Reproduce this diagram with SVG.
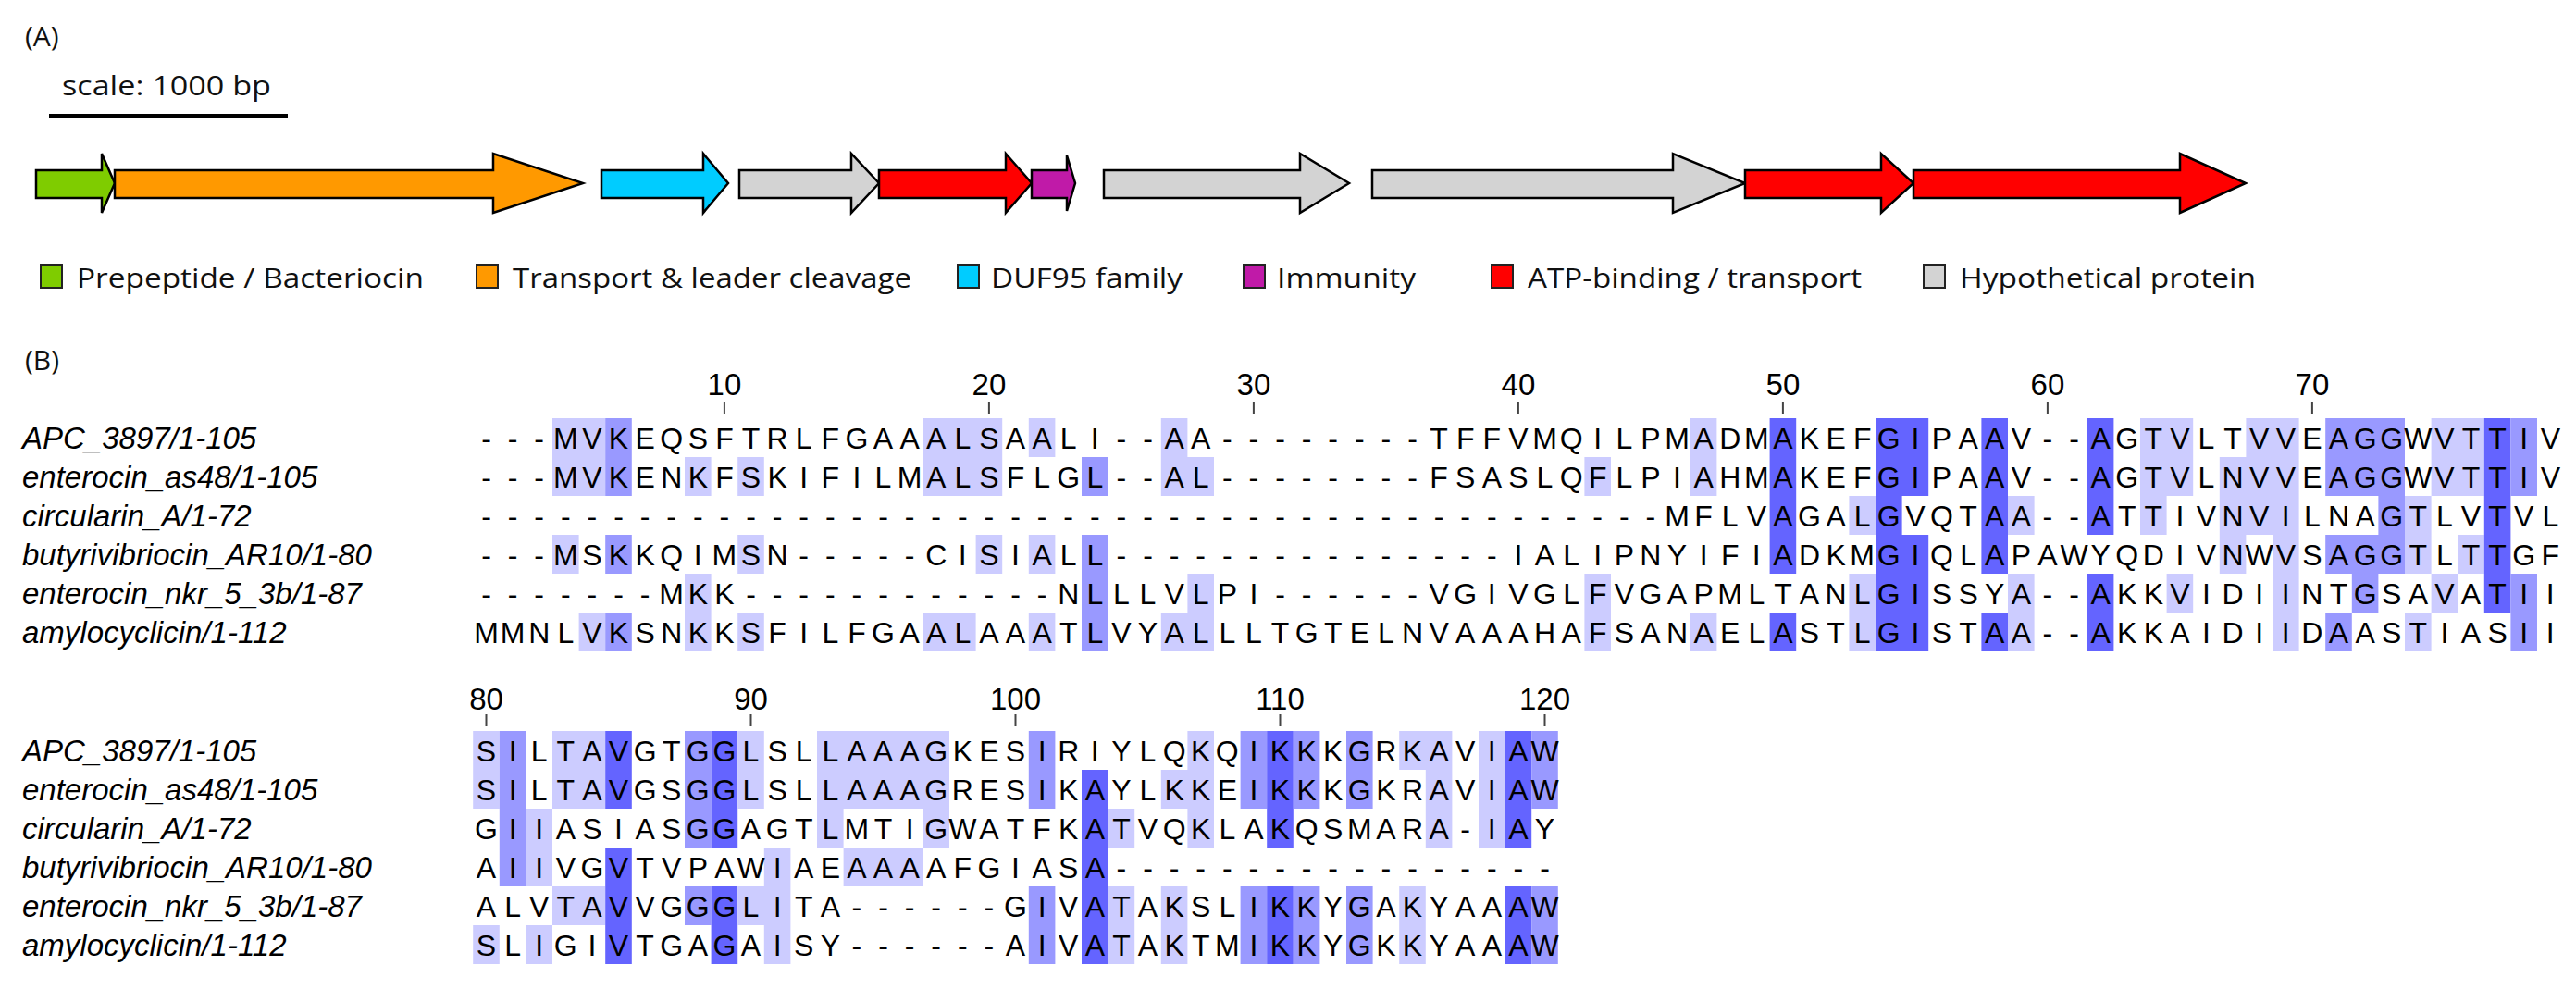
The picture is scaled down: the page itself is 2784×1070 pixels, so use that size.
<svg xmlns="http://www.w3.org/2000/svg" width="2784" height="1070" viewBox="0 0 2784 1070">
<style>
.lbl{font-family:"Open Sans","Noto Sans",sans-serif;font-size:30px;fill:#111}
.seq{font-family:"Liberation Sans",Arial,sans-serif;font-size:32px;fill:#000;text-anchor:middle}
.num{font-family:"Liberation Sans",Arial,sans-serif;font-size:33px;fill:#000;text-anchor:middle}
.nm{font-family:"Liberation Sans",Arial,sans-serif;font-size:33px;font-style:italic;fill:#000}
.arr{stroke:#000;stroke-width:2.5;stroke-linejoin:miter}
.sq{stroke:#222;stroke-width:2}
.L{fill:#ccccff}.M{fill:#9999ff}.D{fill:#6464ff}
.tick{stroke:#444;stroke-width:2}
</style>
<g id="panelA">
<text class="lbl" x="27" y="50" font-size="34">(A)</text>
<text class="lbl" x="67" y="103" textLength="226" lengthAdjust="spacingAndGlyphs">scale: 1000 bp</text>
<line x1="53" y1="125" x2="311" y2="125" stroke="#000" stroke-width="4"/>
</g>
<g id="genes">
<polygon id="g1" class="arr" fill="#7fcc00" points="39,184 110,184 110,166 124,198 110,230 110,214 39,214"/>
<polygon id="g2" class="arr" fill="#ff9900" points="124,184 533,184 533,166 630,198 533,230 533,214 124,214"/>
<polygon id="g3" class="arr" fill="#00ccff" points="650,184 760,184 760,166 787,198 760,230 760,214 650,214"/>
<polygon id="g4" class="arr" fill="#d3d3d3" points="799,184 920,184 920,166 950,198 920,230 920,214 799,214"/>
<polygon id="g5" class="arr" fill="#ff0000" points="950,184 1087,184 1087,166 1115,198 1087,230 1087,214 950,214"/>
<polygon id="g6" class="arr" fill="#c01aa8" points="1115,184 1153,184 1153,168 1162,198 1153,228 1153,214 1115,214"/>
<polygon id="g7" class="arr" fill="#d3d3d3" points="1193,184 1405,184 1405,166 1458,198 1405,230 1405,214 1193,214"/>
<polygon id="g8" class="arr" fill="#d3d3d3" points="1483,184 1808,184 1808,166 1886,198 1808,230 1808,214 1483,214"/>
<polygon id="g9" class="arr" fill="#ff0000" points="1886,184 2033,184 2033,166 2068,198 2033,230 2033,214 1886,214"/>
<polygon id="g10" class="arr" fill="#ff0000" points="2068,184 2356,184 2356,166 2427,198 2356,230 2356,214 2068,214"/>
</g>
<g id="legend">
<rect class="sq" x="44" y="286" width="23" height="25" fill="#7fcc00"/>
<text class="lbl" x="83" y="311" textLength="375" lengthAdjust="spacingAndGlyphs">Prepeptide / Bacteriocin</text>
<rect class="sq" x="515" y="286" width="23" height="25" fill="#ff9900"/>
<text class="lbl" x="554" y="311" textLength="431" lengthAdjust="spacingAndGlyphs">Transport &amp; leader cleavage</text>
<rect class="sq" x="1035" y="286" width="23" height="25" fill="#00ccff"/>
<text class="lbl" x="1071" y="311" textLength="207" lengthAdjust="spacingAndGlyphs">DUF95 family</text>
<rect class="sq" x="1344" y="286" width="23" height="25" fill="#c01aa8"/>
<text class="lbl" x="1380" y="311" textLength="150" lengthAdjust="spacingAndGlyphs">Immunity</text>
<rect class="sq" x="1612" y="286" width="23" height="25" fill="#ff0000"/>
<text class="lbl" x="1651" y="311" textLength="361" lengthAdjust="spacingAndGlyphs">ATP-binding / transport</text>
<rect class="sq" x="2079" y="286" width="23" height="25" fill="#d3d3d3"/>
<text class="lbl" x="2118" y="311" textLength="320" lengthAdjust="spacingAndGlyphs">Hypothetical protein</text>
</g>
<text class="lbl" x="27" y="400" font-size="34">(B)</text>
<g id="shade1" transform="translate(511.2 0) scale(28.6 1)">
<rect class="L" x="3" y="452" width="2" height="42"/><rect class="M" x="5" y="452" width="1" height="42"/><rect class="L" x="17" y="452" width="3" height="42"/><rect class="L" x="21" y="452" width="1" height="42"/><rect class="L" x="26" y="452" width="1" height="42"/><rect class="L" x="46" y="452" width="1" height="42"/><rect class="D" x="49" y="452" width="1" height="42"/><rect class="D" x="53" y="452" width="2" height="42"/><rect class="D" x="57" y="452" width="1" height="42"/><rect class="D" x="61" y="452" width="1" height="42"/><rect class="L" x="63" y="452" width="2" height="42"/><rect class="L" x="67" y="452" width="2" height="42"/><rect class="M" x="70" y="452" width="3" height="42"/><rect class="L" x="74" y="452" width="2" height="42"/><rect class="D" x="76" y="452" width="1" height="42"/><rect class="M" x="77" y="452" width="1" height="42"/>
<rect class="L" x="3" y="494" width="2" height="42"/><rect class="M" x="5" y="494" width="1" height="42"/><rect class="L" x="8" y="494" width="1" height="42"/><rect class="L" x="10" y="494" width="1" height="42"/><rect class="L" x="17" y="494" width="3" height="42"/><rect class="M" x="23" y="494" width="1" height="42"/><rect class="L" x="26" y="494" width="2" height="42"/><rect class="L" x="42" y="494" width="1" height="42"/><rect class="L" x="46" y="494" width="1" height="42"/><rect class="D" x="49" y="494" width="1" height="42"/><rect class="D" x="53" y="494" width="2" height="42"/><rect class="D" x="57" y="494" width="1" height="42"/><rect class="D" x="61" y="494" width="1" height="42"/><rect class="L" x="63" y="494" width="2" height="42"/><rect class="L" x="66" y="494" width="3" height="42"/><rect class="M" x="70" y="494" width="3" height="42"/><rect class="L" x="74" y="494" width="2" height="42"/><rect class="D" x="76" y="494" width="1" height="42"/><rect class="M" x="77" y="494" width="1" height="42"/>
<rect class="D" x="49" y="536" width="1" height="42"/><rect class="L" x="52" y="536" width="1" height="42"/><rect class="D" x="53" y="536" width="1" height="42"/><rect class="D" x="57" y="536" width="1" height="42"/><rect class="L" x="58" y="536" width="1" height="42"/><rect class="D" x="61" y="536" width="1" height="42"/><rect class="L" x="63" y="536" width="1" height="42"/><rect class="L" x="66" y="536" width="3" height="42"/><rect class="M" x="72" y="536" width="1" height="42"/><rect class="L" x="73" y="536" width="1" height="42"/><rect class="D" x="76" y="536" width="1" height="42"/>
<rect class="L" x="3" y="578" width="1" height="42"/><rect class="M" x="5" y="578" width="1" height="42"/><rect class="L" x="10" y="578" width="1" height="42"/><rect class="L" x="19" y="578" width="1" height="42"/><rect class="L" x="21" y="578" width="1" height="42"/><rect class="M" x="23" y="578" width="1" height="42"/><rect class="D" x="49" y="578" width="1" height="42"/><rect class="D" x="53" y="578" width="2" height="42"/><rect class="D" x="57" y="578" width="1" height="42"/><rect class="L" x="66" y="578" width="1" height="42"/><rect class="L" x="68" y="578" width="1" height="42"/><rect class="M" x="70" y="578" width="3" height="42"/><rect class="L" x="73" y="578" width="1" height="42"/><rect class="L" x="75" y="578" width="1" height="42"/><rect class="D" x="76" y="578" width="1" height="42"/>
<rect class="L" x="8" y="620" width="1" height="42"/><rect class="M" x="23" y="620" width="1" height="42"/><rect class="L" x="27" y="620" width="1" height="42"/><rect class="L" x="42" y="620" width="1" height="42"/><rect class="L" x="52" y="620" width="1" height="42"/><rect class="D" x="53" y="620" width="2" height="42"/><rect class="L" x="58" y="620" width="1" height="42"/><rect class="D" x="61" y="620" width="1" height="42"/><rect class="L" x="64" y="620" width="1" height="42"/><rect class="L" x="68" y="620" width="1" height="42"/><rect class="M" x="71" y="620" width="1" height="42"/><rect class="L" x="74" y="620" width="1" height="42"/><rect class="D" x="76" y="620" width="1" height="42"/><rect class="M" x="77" y="620" width="1" height="42"/>
<rect class="L" x="4" y="662" width="1" height="42"/><rect class="M" x="5" y="662" width="1" height="42"/><rect class="L" x="8" y="662" width="1" height="42"/><rect class="L" x="10" y="662" width="1" height="42"/><rect class="L" x="17" y="662" width="2" height="42"/><rect class="L" x="21" y="662" width="1" height="42"/><rect class="M" x="23" y="662" width="1" height="42"/><rect class="L" x="26" y="662" width="2" height="42"/><rect class="L" x="42" y="662" width="1" height="42"/><rect class="L" x="46" y="662" width="1" height="42"/><rect class="D" x="49" y="662" width="1" height="42"/><rect class="L" x="52" y="662" width="1" height="42"/><rect class="D" x="53" y="662" width="2" height="42"/><rect class="D" x="57" y="662" width="1" height="42"/><rect class="L" x="58" y="662" width="1" height="42"/><rect class="D" x="61" y="662" width="1" height="42"/><rect class="L" x="68" y="662" width="1" height="42"/><rect class="M" x="70" y="662" width="1" height="42"/><rect class="L" x="73" y="662" width="1" height="42"/><rect class="M" x="77" y="662" width="1" height="42"/>
</g>
<g id="shade2" transform="translate(511.2 0) scale(28.6 1)">
<rect class="L" x="0" y="790" width="1" height="42"/><rect class="M" x="1" y="790" width="1" height="42"/><rect class="L" x="3" y="790" width="2" height="42"/><rect class="D" x="5" y="790" width="1" height="42"/><rect class="M" x="8" y="790" width="1" height="42"/><rect class="D" x="9" y="790" width="1" height="42"/><rect class="L" x="10" y="790" width="1" height="42"/><rect class="L" x="13" y="790" width="5" height="42"/><rect class="M" x="21" y="790" width="1" height="42"/><rect class="L" x="27" y="790" width="1" height="42"/><rect class="M" x="29" y="790" width="1" height="42"/><rect class="D" x="30" y="790" width="1" height="42"/><rect class="M" x="31" y="790" width="1" height="42"/><rect class="M" x="33" y="790" width="1" height="42"/><rect class="L" x="35" y="790" width="2" height="42"/><rect class="L" x="38" y="790" width="1" height="42"/><rect class="D" x="39" y="790" width="1" height="42"/><rect class="M" x="40" y="790" width="1" height="42"/>
<rect class="L" x="0" y="832" width="1" height="42"/><rect class="M" x="1" y="832" width="1" height="42"/><rect class="L" x="3" y="832" width="2" height="42"/><rect class="D" x="5" y="832" width="1" height="42"/><rect class="M" x="8" y="832" width="1" height="42"/><rect class="D" x="9" y="832" width="1" height="42"/><rect class="L" x="10" y="832" width="1" height="42"/><rect class="L" x="13" y="832" width="5" height="42"/><rect class="M" x="21" y="832" width="1" height="42"/><rect class="D" x="23" y="832" width="1" height="42"/><rect class="L" x="26" y="832" width="2" height="42"/><rect class="M" x="29" y="832" width="1" height="42"/><rect class="D" x="30" y="832" width="1" height="42"/><rect class="M" x="31" y="832" width="1" height="42"/><rect class="M" x="33" y="832" width="1" height="42"/><rect class="L" x="36" y="832" width="1" height="42"/><rect class="L" x="38" y="832" width="1" height="42"/><rect class="D" x="39" y="832" width="1" height="42"/><rect class="M" x="40" y="832" width="1" height="42"/>
<rect class="M" x="1" y="874" width="1" height="42"/><rect class="L" x="2" y="874" width="1" height="42"/><rect class="M" x="8" y="874" width="1" height="42"/><rect class="D" x="9" y="874" width="1" height="42"/><rect class="L" x="13" y="874" width="1" height="42"/><rect class="L" x="17" y="874" width="1" height="42"/><rect class="D" x="23" y="874" width="1" height="42"/><rect class="L" x="24" y="874" width="1" height="42"/><rect class="L" x="27" y="874" width="1" height="42"/><rect class="D" x="30" y="874" width="1" height="42"/><rect class="L" x="36" y="874" width="1" height="42"/><rect class="L" x="38" y="874" width="1" height="42"/><rect class="D" x="39" y="874" width="1" height="42"/>
<rect class="M" x="1" y="916" width="1" height="42"/><rect class="L" x="2" y="916" width="1" height="42"/><rect class="D" x="5" y="916" width="1" height="42"/><rect class="L" x="11" y="916" width="1" height="42"/><rect class="L" x="14" y="916" width="3" height="42"/><rect class="D" x="23" y="916" width="1" height="42"/>
<rect class="L" x="3" y="958" width="2" height="42"/><rect class="D" x="5" y="958" width="1" height="42"/><rect class="M" x="8" y="958" width="1" height="42"/><rect class="D" x="9" y="958" width="1" height="42"/><rect class="L" x="10" y="958" width="2" height="42"/><rect class="M" x="21" y="958" width="1" height="42"/><rect class="D" x="23" y="958" width="1" height="42"/><rect class="L" x="24" y="958" width="1" height="42"/><rect class="L" x="26" y="958" width="1" height="42"/><rect class="M" x="29" y="958" width="1" height="42"/><rect class="D" x="30" y="958" width="1" height="42"/><rect class="M" x="31" y="958" width="1" height="42"/><rect class="M" x="33" y="958" width="1" height="42"/><rect class="L" x="35" y="958" width="1" height="42"/><rect class="D" x="39" y="958" width="1" height="42"/><rect class="M" x="40" y="958" width="1" height="42"/>
<rect class="L" x="0" y="1000" width="1" height="42"/><rect class="L" x="2" y="1000" width="1" height="42"/><rect class="D" x="5" y="1000" width="1" height="42"/><rect class="D" x="9" y="1000" width="1" height="42"/><rect class="L" x="11" y="1000" width="1" height="42"/><rect class="M" x="21" y="1000" width="1" height="42"/><rect class="D" x="23" y="1000" width="1" height="42"/><rect class="L" x="24" y="1000" width="1" height="42"/><rect class="L" x="26" y="1000" width="1" height="42"/><rect class="M" x="29" y="1000" width="1" height="42"/><rect class="D" x="30" y="1000" width="1" height="42"/><rect class="M" x="31" y="1000" width="1" height="42"/><rect class="M" x="33" y="1000" width="1" height="42"/><rect class="L" x="35" y="1000" width="1" height="42"/><rect class="D" x="39" y="1000" width="1" height="42"/><rect class="M" x="40" y="1000" width="1" height="42"/>
</g>
<g id="ruler">
<text class="num" x="782.9" y="427">10</text><text class="num" x="1068.9" y="427">20</text><text class="num" x="1354.9" y="427">30</text><text class="num" x="1640.9" y="427">40</text><text class="num" x="1926.9" y="427">50</text><text class="num" x="2212.9" y="427">60</text><text class="num" x="2498.9" y="427">70</text>
<path class="tick" d="M782.9 434V447M1068.9 434V447M1354.9 434V447M1640.9 434V447M1926.9 434V447M2212.9 434V447M2498.9 434V447"/>
<text class="num" x="525.5" y="767">80</text><text class="num" x="811.5" y="767">90</text><text class="num" x="1097.5" y="767">100</text><text class="num" x="1383.5" y="767">110</text><text class="num" x="1669.5" y="767">120</text>
<path class="tick" d="M525.5 772V785M811.5 772V785M1097.5 772V785M1383.5 772V785M1669.5 772V785"/>
</g>
<g id="names">
<text class="nm" x="24" y="485">APC_3897/1-105</text>
<text class="nm" x="24" y="527">enterocin_as48/1-105</text>
<text class="nm" x="24" y="569">circularin_A/1-72</text>
<text class="nm" x="24" y="611">butyrivibriocin_AR10/1-80</text>
<text class="nm" x="24" y="653">enterocin_nkr_5_3b/1-87</text>
<text class="nm" x="24" y="695">amylocyclicin/1-112</text>
<text class="nm" x="24" y="823">APC_3897/1-105</text>
<text class="nm" x="24" y="865">enterocin_as48/1-105</text>
<text class="nm" x="24" y="907">circularin_A/1-72</text>
<text class="nm" x="24" y="949">butyrivibriocin_AR10/1-80</text>
<text class="nm" x="24" y="991">enterocin_nkr_5_3b/1-87</text>
<text class="nm" x="24" y="1033">amylocyclicin/1-112</text>
</g>
<g id="seq1">
<text class="seq" y="485" x="525.5 554.1 582.7 611.3 639.9 668.5 697.1 725.7 754.3 782.9 811.5 840.1 868.7 897.3 925.9 954.5 983.1 1011.7 1040.3 1068.9 1097.5 1126.1 1154.7 1183.3 1211.9 1240.5 1269.1 1297.7 1326.3 1354.9 1383.5 1412.1 1440.7 1469.3 1497.9 1526.5 1555.1 1583.7 1612.3 1640.9 1669.5 1698.1 1726.7 1755.3 1783.9 1812.5 1841.1 1869.7 1898.3 1926.9 1955.5 1984.1 2012.7 2041.3 2069.9 2098.5 2127.1 2155.7 2184.3 2212.9 2241.5 2270.1 2298.7 2327.3 2355.9 2384.5 2413.1 2441.7 2470.3 2498.9 2527.5 2556.1 2584.7 2613.3 2641.9 2670.5 2699.1 2727.7 2756.3">---MVKEQSFTRLFGAAALSAALI--AA--------TFFVMQILPMADMAKEFGIPAAV--AGTVLTVVEAGGWVTTIV</text>
<text class="seq" y="527" x="525.5 554.1 582.7 611.3 639.9 668.5 697.1 725.7 754.3 782.9 811.5 840.1 868.7 897.3 925.9 954.5 983.1 1011.7 1040.3 1068.9 1097.5 1126.1 1154.7 1183.3 1211.9 1240.5 1269.1 1297.7 1326.3 1354.9 1383.5 1412.1 1440.7 1469.3 1497.9 1526.5 1555.1 1583.7 1612.3 1640.9 1669.5 1698.1 1726.7 1755.3 1783.9 1812.5 1841.1 1869.7 1898.3 1926.9 1955.5 1984.1 2012.7 2041.3 2069.9 2098.5 2127.1 2155.7 2184.3 2212.9 2241.5 2270.1 2298.7 2327.3 2355.9 2384.5 2413.1 2441.7 2470.3 2498.9 2527.5 2556.1 2584.7 2613.3 2641.9 2670.5 2699.1 2727.7 2756.3">---MVKENKFSKIFILMALSFLGL--AL--------FSASLQFLPIAHMAKEFGIPAAV--AGTVLNVVEAGGWVTTIV</text>
<text class="seq" y="569" x="525.5 554.1 582.7 611.3 639.9 668.5 697.1 725.7 754.3 782.9 811.5 840.1 868.7 897.3 925.9 954.5 983.1 1011.7 1040.3 1068.9 1097.5 1126.1 1154.7 1183.3 1211.9 1240.5 1269.1 1297.7 1326.3 1354.9 1383.5 1412.1 1440.7 1469.3 1497.9 1526.5 1555.1 1583.7 1612.3 1640.9 1669.5 1698.1 1726.7 1755.3 1783.9 1812.5 1841.1 1869.7 1898.3 1926.9 1955.5 1984.1 2012.7 2041.3 2069.9 2098.5 2127.1 2155.7 2184.3 2212.9 2241.5 2270.1 2298.7 2327.3 2355.9 2384.5 2413.1 2441.7 2470.3 2498.9 2527.5 2556.1 2584.7 2613.3 2641.9 2670.5 2699.1 2727.7 2756.3">---------------------------------------------MFLVAGALGVQTAA--ATTIVNVILNAGTLVTVL</text>
<text class="seq" y="611" x="525.5 554.1 582.7 611.3 639.9 668.5 697.1 725.7 754.3 782.9 811.5 840.1 868.7 897.3 925.9 954.5 983.1 1011.7 1040.3 1068.9 1097.5 1126.1 1154.7 1183.3 1211.9 1240.5 1269.1 1297.7 1326.3 1354.9 1383.5 1412.1 1440.7 1469.3 1497.9 1526.5 1555.1 1583.7 1612.3 1640.9 1669.5 1698.1 1726.7 1755.3 1783.9 1812.5 1841.1 1869.7 1898.3 1926.9 1955.5 1984.1 2012.7 2041.3 2069.9 2098.5 2127.1 2155.7 2184.3 2212.9 2241.5 2270.1 2298.7 2327.3 2355.9 2384.5 2413.1 2441.7 2470.3 2498.9 2527.5 2556.1 2584.7 2613.3 2641.9 2670.5 2699.1 2727.7 2756.3">---MSKKQIMSN-----CISIALL---------------IALIPNYIFIADKMGIQLAPAWYQDIVNWVSAGGTLTTGF</text>
<text class="seq" y="653" x="525.5 554.1 582.7 611.3 639.9 668.5 697.1 725.7 754.3 782.9 811.5 840.1 868.7 897.3 925.9 954.5 983.1 1011.7 1040.3 1068.9 1097.5 1126.1 1154.7 1183.3 1211.9 1240.5 1269.1 1297.7 1326.3 1354.9 1383.5 1412.1 1440.7 1469.3 1497.9 1526.5 1555.1 1583.7 1612.3 1640.9 1669.5 1698.1 1726.7 1755.3 1783.9 1812.5 1841.1 1869.7 1898.3 1926.9 1955.5 1984.1 2012.7 2041.3 2069.9 2098.5 2127.1 2155.7 2184.3 2212.9 2241.5 2270.1 2298.7 2327.3 2355.9 2384.5 2413.1 2441.7 2470.3 2498.9 2527.5 2556.1 2584.7 2613.3 2641.9 2670.5 2699.1 2727.7 2756.3">-------MKK------------NLLLVLPI------VGIVGLFVGAPMLTANLGISSYA--AKKVIDIINTGSAVATII</text>
<text class="seq" y="695" x="525.5 554.1 582.7 611.3 639.9 668.5 697.1 725.7 754.3 782.9 811.5 840.1 868.7 897.3 925.9 954.5 983.1 1011.7 1040.3 1068.9 1097.5 1126.1 1154.7 1183.3 1211.9 1240.5 1269.1 1297.7 1326.3 1354.9 1383.5 1412.1 1440.7 1469.3 1497.9 1526.5 1555.1 1583.7 1612.3 1640.9 1669.5 1698.1 1726.7 1755.3 1783.9 1812.5 1841.1 1869.7 1898.3 1926.9 1955.5 1984.1 2012.7 2041.3 2069.9 2098.5 2127.1 2155.7 2184.3 2212.9 2241.5 2270.1 2298.7 2327.3 2355.9 2384.5 2413.1 2441.7 2470.3 2498.9 2527.5 2556.1 2584.7 2613.3 2641.9 2670.5 2699.1 2727.7 2756.3">MMNLVKSNKKSFILFGAALAAATLVYALLLTGTELNVAAAHAFSANAELASTLGISTAA--AKKAIDIIDAASTIASII</text>
</g>
<g id="seq2">
<text class="seq" y="823" x="525.5 554.1 582.7 611.3 639.9 668.5 697.1 725.7 754.3 782.9 811.5 840.1 868.7 897.3 925.9 954.5 983.1 1011.7 1040.3 1068.9 1097.5 1126.1 1154.7 1183.3 1211.9 1240.5 1269.1 1297.7 1326.3 1354.9 1383.5 1412.1 1440.7 1469.3 1497.9 1526.5 1555.1 1583.7 1612.3 1640.9 1669.5">SILTAVGTGGLSLLAAAGKESIRIYLQKQIKKKGRKAVIAW</text>
<text class="seq" y="865" x="525.5 554.1 582.7 611.3 639.9 668.5 697.1 725.7 754.3 782.9 811.5 840.1 868.7 897.3 925.9 954.5 983.1 1011.7 1040.3 1068.9 1097.5 1126.1 1154.7 1183.3 1211.9 1240.5 1269.1 1297.7 1326.3 1354.9 1383.5 1412.1 1440.7 1469.3 1497.9 1526.5 1555.1 1583.7 1612.3 1640.9 1669.5">SILTAVGSGGLSLLAAAGRESIKAYLKKEIKKKGKRAVIAW</text>
<text class="seq" y="907" x="525.5 554.1 582.7 611.3 639.9 668.5 697.1 725.7 754.3 782.9 811.5 840.1 868.7 897.3 925.9 954.5 983.1 1011.7 1040.3 1068.9 1097.5 1126.1 1154.7 1183.3 1211.9 1240.5 1269.1 1297.7 1326.3 1354.9 1383.5 1412.1 1440.7 1469.3 1497.9 1526.5 1555.1 1583.7 1612.3 1640.9 1669.5">GIIASIASGGAGTLMTIGWATFKATVQKLAKQSMARA-IAY</text>
<text class="seq" y="949" x="525.5 554.1 582.7 611.3 639.9 668.5 697.1 725.7 754.3 782.9 811.5 840.1 868.7 897.3 925.9 954.5 983.1 1011.7 1040.3 1068.9 1097.5 1126.1 1154.7 1183.3 1211.9 1240.5 1269.1 1297.7 1326.3 1354.9 1383.5 1412.1 1440.7 1469.3 1497.9 1526.5 1555.1 1583.7 1612.3 1640.9 1669.5">AIIVGVTVPAWIAEAAAAFGIASA-----------------</text>
<text class="seq" y="991" x="525.5 554.1 582.7 611.3 639.9 668.5 697.1 725.7 754.3 782.9 811.5 840.1 868.7 897.3 925.9 954.5 983.1 1011.7 1040.3 1068.9 1097.5 1126.1 1154.7 1183.3 1211.9 1240.5 1269.1 1297.7 1326.3 1354.9 1383.5 1412.1 1440.7 1469.3 1497.9 1526.5 1555.1 1583.7 1612.3 1640.9 1669.5">ALVTAVVGGGLITA------GIVATAKSLIKKYGAKYAAAW</text>
<text class="seq" y="1033" x="525.5 554.1 582.7 611.3 639.9 668.5 697.1 725.7 754.3 782.9 811.5 840.1 868.7 897.3 925.9 954.5 983.1 1011.7 1040.3 1068.9 1097.5 1126.1 1154.7 1183.3 1211.9 1240.5 1269.1 1297.7 1326.3 1354.9 1383.5 1412.1 1440.7 1469.3 1497.9 1526.5 1555.1 1583.7 1612.3 1640.9 1669.5">SLIGIVTGAGAISY------AIVATAKTMIKKYGKKYAAAW</text>
</g>
</svg>
